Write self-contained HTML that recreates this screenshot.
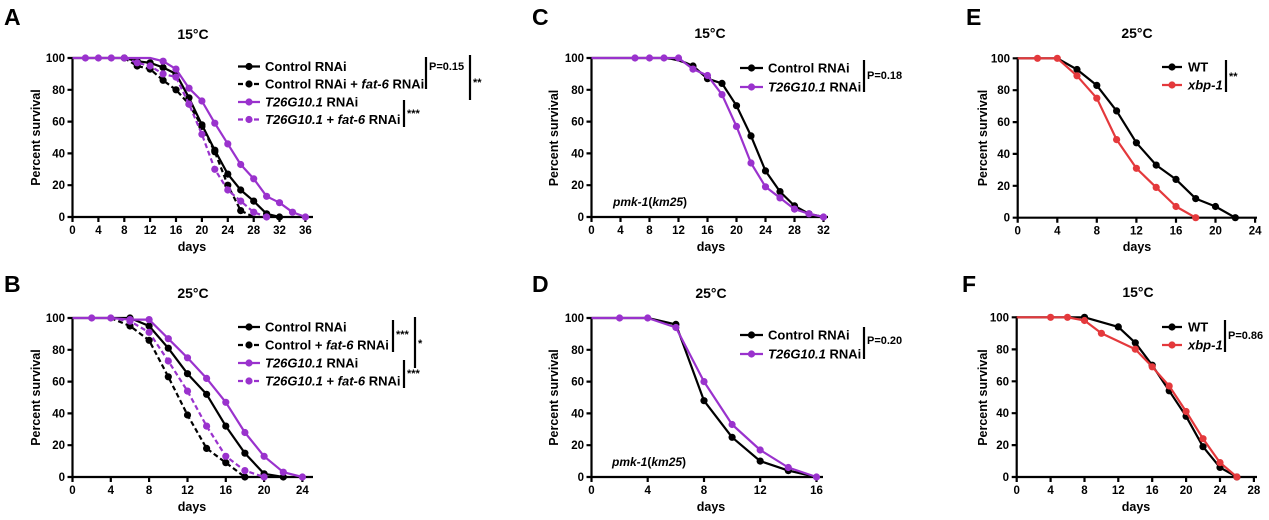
<!DOCTYPE html>
<html><head><meta charset="utf-8"><style>
html,body{margin:0;padding:0;background:#fff;}
svg{display:block;}
text{font-family:"Liberation Sans",Arial,sans-serif;font-weight:bold;fill:#000;}
.yl{font-size:11.5px;text-anchor:end;}
.xl{font-size:11.5px;text-anchor:middle;}
.ax{font-size:12.5px;text-anchor:middle;}
.tt{font-size:14px;text-anchor:middle;}
.pl{font-size:23px;}
.lg{font-size:13px;}
.pv{font-size:11px;}
.ln{fill:none;stroke-width:2.2;stroke-linejoin:round;}
.ds{stroke-dasharray:5 3;}
.mk{fill:none;stroke:none;}
.axl{stroke:#000;stroke-width:2.2;fill:none;}
</style></head><body>
<svg width="1269" height="520" viewBox="0 0 1269 520" xmlns="http://www.w3.org/2000/svg">
<defs>
<marker id="mb" markerWidth="10" markerHeight="10" refX="5" refY="5" markerUnits="userSpaceOnUse"><circle cx="5" cy="5" r="3.6" fill="#000"/></marker>
<marker id="mp" markerWidth="10" markerHeight="10" refX="5" refY="5" markerUnits="userSpaceOnUse"><circle cx="5" cy="5" r="3.6" fill="#9a32cd"/></marker>
<marker id="mr" markerWidth="10" markerHeight="10" refX="5" refY="5" markerUnits="userSpaceOnUse"><circle cx="5" cy="5" r="3.6" fill="#e4393c"/></marker>
</defs>

<!-- ================= PANEL A ================= -->
<text class="pl" x="4" y="25">A</text>
<text class="tt" x="193" y="39">15°C</text>
<text class="ax" transform="translate(40,137.5) rotate(-90)">Percent survival</text>
<text class="ax" x="192" y="251">days</text>
<path class="axl" d="M72.5,57 V218 M71.5,217 H313"/>
<path class="axl" d="M67.5,217H72.5M67.5,185.2H72.5M67.5,153.4H72.5M67.5,121.6H72.5M67.5,89.8H72.5M67.5,58H72.5
M72.5,217V222M98.4,217V222M124.3,217V222M150.1,217V222M176,217V222M201.9,217V222M227.8,217V222M253.7,217V222M279.5,217V222M305.4,217V222"/>
<g class="yl"><text x="65" y="221">0</text><text x="65" y="189.2">20</text><text x="65" y="157.4">40</text><text x="65" y="125.6">60</text><text x="65" y="93.8">80</text><text x="65" y="62">100</text></g>
<g class="xl"><text x="72.5" y="234">0</text><text x="98.4" y="234">4</text><text x="124.3" y="234">8</text><text x="150.1" y="234">12</text><text x="176" y="234">16</text><text x="201.9" y="234">20</text><text x="227.8" y="234">24</text><text x="253.7" y="234">28</text><text x="279.5" y="234">32</text><text x="305.4" y="234">36</text></g>
<polyline class="ln" stroke="#000" points="72.5,58 124.3,58 137.2,61.2 150.1,62.8 163.1,67.5 176,73.9 189,97.8 201.9,124.8 214.8,150.2 227.8,174.1 240.7,190 253.7,201.1 266.6,213.8 279.5,217"/>
<polyline class="mk" marker-start="url(#mb)" marker-mid="url(#mb)" marker-end="url(#mb)" points="124.3,58 137.2,61.2 150.1,62.8 163.1,67.5 176,73.9 189,97.8 201.9,124.8 214.8,150.2 227.8,174.1 240.7,190 253.7,201.1 266.6,213.8 279.5,217"/>
<polyline class="ln ds" stroke="#000" points="124.3,58 137.2,66 150.1,69.1 163.1,80.3 176,89.8 189,104.1 201.9,126.4 214.8,151.8 227.8,185.2 240.7,210.6 253.7,217"/>
<polyline class="mk" marker-start="url(#mb)" marker-mid="url(#mb)" marker-end="url(#mb)" points="137.2,66 150.1,69.1 163.1,80.3 176,89.8 189,104.1 201.9,126.4 214.8,151.8 227.8,185.2 240.7,210.6"/>
<polyline class="ln" stroke="#9a32cd" points="72.5,58 85.4,58 98.4,58 111.3,58 124.3,58 150.1,58 163.1,61.2 176,69.1 189,88.2 201.9,101 214.8,123.2 227.8,143.9 240.7,164.5 253.7,178.8 266.6,196.3 279.5,202.7 292.5,212.2 305.4,217"/>
<polyline class="mk" marker-start="url(#mp)" marker-mid="url(#mp)" marker-end="url(#mp)" points="85.4,58 98.4,58 111.3,58 124.3,58 163.1,61.2 176,69.1 189,88.2 201.9,101 214.8,123.2 227.8,143.9 240.7,164.5 253.7,178.8 266.6,196.3 279.5,202.7 292.5,212.2 305.4,217"/>
<polyline class="ln ds" stroke="#9a32cd" points="124.3,58 137.2,62.8 150.1,66 163.1,73.9 176,77.1 189,104.1 201.9,134.3 214.8,169.3 227.8,190 240.7,201.1 253.7,212.2 266.6,217"/>
<polyline class="mk" marker-start="url(#mp)" marker-mid="url(#mp)" marker-end="url(#mp)" points="137.2,62.8 150.1,66 163.1,73.9 176,77.1 189,104.1 201.9,134.3 214.8,169.3 227.8,190 240.7,201.1 253.7,212.2 266.6,217"/>
<line x1="238" y1="66.5" x2="260" y2="66.5" stroke="#000" stroke-width="2.2"/><circle cx="249" cy="66.5" r="3.6" fill="#000"/>
<line x1="238" y1="84" x2="260" y2="84" stroke="#000" stroke-width="2.2" stroke-dasharray="5 3"/><circle cx="249" cy="84" r="3.6" fill="#000"/>
<line x1="238" y1="102" x2="260" y2="102" stroke="#9a32cd" stroke-width="2.2"/><circle cx="249" cy="102" r="3.6" fill="#9a32cd"/>
<line x1="238" y1="119.5" x2="260" y2="119.5" stroke="#9a32cd" stroke-width="2.2" stroke-dasharray="5 3"/><circle cx="249" cy="119.5" r="3.6" fill="#9a32cd"/>
<text class="lg" x="265" y="71">Control RNAi</text>
<text class="lg" x="265" y="88.5">Control RNAi + <tspan font-style="italic">fat-6</tspan> RNAi</text>
<text class="lg" x="265" y="106.5"><tspan font-style="italic">T26G10.1</tspan> RNAi</text>
<text class="lg" x="265" y="124"><tspan font-style="italic">T26G10.1</tspan> + <tspan font-style="italic">fat-6</tspan> RNAi</text>
<path class="axl" stroke-width="1.6" d="M426,57V89 M470,55V100 M404,100V127"/>
<text class="pv" x="429" y="70">P=0.15</text>
<text class="pv" x="473" y="86">**</text>
<text class="pv" x="407" y="117">***</text>

<!-- ================= PANEL B ================= -->
<text class="pl" x="4" y="292">B</text>
<text class="tt" x="193" y="298">25°C</text>
<text class="ax" transform="translate(40,397.5) rotate(-90)">Percent survival</text>
<text class="ax" x="192" y="511">days</text>
<path class="axl" d="M72.5,317 V478 M71.5,477 H313"/>
<path class="axl" d="M67.5,477H72.5M67.5,445.2H72.5M67.5,413.4H72.5M67.5,381.6H72.5M67.5,349.8H72.5M67.5,318H72.5
M72.5,477V482M110.8,477V482M149.1,477V482M187.5,477V482M225.8,477V482M264.1,477V482M302.4,477V482"/>
<g class="yl"><text x="65" y="481">0</text><text x="65" y="449.2">20</text><text x="65" y="417.4">40</text><text x="65" y="385.6">60</text><text x="65" y="353.8">80</text><text x="65" y="322">100</text></g>
<g class="xl"><text x="72.5" y="494">0</text><text x="110.8" y="494">4</text><text x="149.1" y="494">8</text><text x="187.5" y="494">12</text><text x="225.8" y="494">16</text><text x="264.1" y="494">20</text><text x="302.4" y="494">24</text></g>
<polyline class="ln" stroke="#000" points="72.5,318 130,318 149.1,326 168.3,348.2 187.5,373.7 206.6,394.3 225.8,426.1 244.9,453.2 264.1,473.8 283.3,477"/>
<polyline class="mk" marker-start="url(#mb)" marker-mid="url(#mb)" marker-end="url(#mb)" points="130,318 149.1,326 168.3,348.2 187.5,373.7 206.6,394.3 225.8,426.1 244.9,453.2 264.1,473.8 283.3,477"/>
<polyline class="ln ds" stroke="#000" points="110.8,318 130,326 149.1,340.3 168.3,376.8 187.5,415 206.6,448.4 225.8,462.7 244.9,477"/>
<polyline class="mk" marker-start="url(#mb)" marker-mid="url(#mb)" marker-end="url(#mb)" points="130,326 149.1,340.3 168.3,376.8 187.5,415 206.6,448.4 225.8,462.7 244.9,477"/>
<polyline class="ln" stroke="#9a32cd" points="72.5,318 91.7,318 110.8,318 130,319.6 149.1,319.6 168.3,338.7 187.5,357.8 206.6,378.4 225.8,402.3 244.9,432.5 264.1,456.3 283.3,472.2 302.4,477"/>
<polyline class="mk" marker-start="url(#mp)" marker-mid="url(#mp)" marker-end="url(#mp)" points="91.7,318 110.8,318 130,319.6 149.1,319.6 168.3,338.7 187.5,357.8 206.6,378.4 225.8,402.3 244.9,432.5 264.1,456.3 283.3,472.2 302.4,477"/>
<polyline class="ln ds" stroke="#9a32cd" points="110.8,318 130,321.2 149.1,332.3 168.3,361 187.5,391.1 206.6,426.1 225.8,456.3 244.9,470.6 264.1,477"/>
<polyline class="mk" marker-start="url(#mp)" marker-mid="url(#mp)" marker-end="url(#mp)" points="130,321.2 149.1,332.3 168.3,361 187.5,391.1 206.6,426.1 225.8,456.3 244.9,470.6 264.1,477"/>
<line x1="238" y1="327" x2="260" y2="327" stroke="#000" stroke-width="2.2"/><circle cx="249" cy="327" r="3.6" fill="#000"/>
<line x1="238" y1="345" x2="260" y2="345" stroke="#000" stroke-width="2.2" stroke-dasharray="5 3"/><circle cx="249" cy="345" r="3.6" fill="#000"/>
<line x1="238" y1="363" x2="260" y2="363" stroke="#9a32cd" stroke-width="2.2"/><circle cx="249" cy="363" r="3.6" fill="#9a32cd"/>
<line x1="238" y1="381" x2="260" y2="381" stroke="#9a32cd" stroke-width="2.2" stroke-dasharray="5 3"/><circle cx="249" cy="381" r="3.6" fill="#9a32cd"/>
<text class="lg" x="265" y="331.5">Control RNAi</text>
<text class="lg" x="265" y="349.5">Control + <tspan font-style="italic">fat-6</tspan> RNAi</text>
<text class="lg" x="265" y="367.5"><tspan font-style="italic">T26G10.1</tspan> RNAi</text>
<text class="lg" x="265" y="385.5"><tspan font-style="italic">T26G10.1</tspan> + <tspan font-style="italic">fat-6</tspan> RNAi</text>
<path class="axl" stroke-width="1.6" d="M393,320V352 M415,317V368 M404,360V388"/>
<text class="pv" x="396" y="338">***</text>
<text class="pv" x="418" y="347">*</text>
<text class="pv" x="407" y="377">***</text>

<!-- ================= PANEL C ================= -->
<text class="pl" x="532" y="25">C</text>
<text class="tt" x="710" y="38">15°C</text>
<text class="ax" transform="translate(558,138) rotate(-90)">Percent survival</text>
<text class="ax" x="711" y="251">days</text>
<path class="axl" d="M591.5,57 V218 M590.5,217 H828"/>
<path class="axl" d="M586.5,217H591.5M586.5,185.2H591.5M586.5,153.4H591.5M586.5,121.6H591.5M586.5,89.8H591.5M586.5,58H591.5
M591.5,217V222M620.5,217V222M649.5,217V222M678.5,217V222M707.5,217V222M736.5,217V222M765.5,217V222M794.5,217V222M823.5,217V222"/>
<g class="yl"><text x="584" y="221">0</text><text x="584" y="189.2">20</text><text x="584" y="157.4">40</text><text x="584" y="125.6">60</text><text x="584" y="93.8">80</text><text x="584" y="62">100</text></g>
<g class="xl"><text x="591.5" y="234">0</text><text x="620.5" y="234">4</text><text x="649.5" y="234">8</text><text x="678.5" y="234">12</text><text x="707.5" y="234">16</text><text x="736.5" y="234">20</text><text x="765.5" y="234">24</text><text x="794.5" y="234">28</text><text x="823.5" y="234">32</text></g>
<polyline class="ln" stroke="#000" points="591.5,58 664,58 671.25,58.8 678.5,60.4 685.75,62.8 693,66 707.5,78.7 722,83.4 736.5,105.7 751,135.9 765.5,170.9 780,191.6 794.5,205.9 809,213.8 823.5,217"/>
<polyline class="mk" marker-start="url(#mb)" marker-mid="url(#mb)" marker-end="url(#mb)" points="693,66 707.5,78.7 722,83.4 736.5,105.7 751,135.9 765.5,170.9 780,191.6 794.5,205.9 809,213.8"/>
<polyline class="ln" stroke="#9a32cd" points="591.5,58 635,58 649.5,58 664,58 678.5,58 693,69.1 707.5,75.5 722,94.6 736.5,126.4 751,163 765.5,186.8 780,197.9 794.5,209.1 809,213.8 823.5,217"/>
<polyline class="mk" marker-start="url(#mp)" marker-mid="url(#mp)" marker-end="url(#mp)" points="635,58 649.5,58 664,58 678.5,58 693,69.1 707.5,75.5 722,94.6 736.5,126.4 751,163 765.5,186.8 780,197.9 794.5,209.1 809,213.8 823.5,217"/>
<text x="613" y="206" font-size="12" font-style="italic">pmk-1<tspan font-style="normal">(</tspan>km25<tspan font-style="normal">)</tspan></text>
<line x1="740" y1="68" x2="763" y2="68" stroke="#000" stroke-width="2.2"/><circle cx="751.5" cy="68" r="3.6" fill="#000"/>
<line x1="740" y1="87" x2="763" y2="87" stroke="#9a32cd" stroke-width="2.2"/><circle cx="751.5" cy="87" r="3.6" fill="#9a32cd"/>
<text class="lg" x="768" y="72.5">Control RNAi</text>
<text class="lg" x="768" y="91.5"><tspan font-style="italic">T26G10.1</tspan> RNAi</text>
<path class="axl" stroke-width="1.6" d="M864,60V92"/>
<text class="pv" x="867" y="79">P=0.18</text>

<!-- ================= PANEL D ================= -->
<text class="pl" x="532" y="292">D</text>
<text class="tt" x="711" y="298">25°C</text>
<text class="ax" transform="translate(558,397.5) rotate(-90)">Percent survival</text>
<text class="ax" x="711" y="511">days</text>
<path class="axl" d="M591.5,317 V478 M590.5,477 H823"/>
<path class="axl" d="M586.5,477H591.5M586.5,445.2H591.5M586.5,413.4H591.5M586.5,381.6H591.5M586.5,349.8H591.5M586.5,318H591.5
M591.5,477V482M647.7,477V482M704,477V482M760.2,477V482M816.5,477V482"/>
<g class="yl"><text x="584" y="481">0</text><text x="584" y="449.2">20</text><text x="584" y="417.4">40</text><text x="584" y="385.6">60</text><text x="584" y="353.8">80</text><text x="584" y="322">100</text></g>
<g class="xl"><text x="591.5" y="494">0</text><text x="647.7" y="494">4</text><text x="704" y="494">8</text><text x="760.2" y="494">12</text><text x="816.5" y="494">16</text></g>
<polyline class="ln" stroke="#000" points="591.5,318 647.7,318 675.9,324.4 704,400.7 732.1,437.3 760.2,461.1 788.3,470.6 816.5,477"/>
<polyline class="mk" marker-start="url(#mb)" marker-mid="url(#mb)" marker-end="url(#mb)" points="675.9,324.4 704,400.7 732.1,437.3 760.2,461.1 788.3,470.6"/>
<polyline class="ln" stroke="#9a32cd" points="591.5,318 619.6,318 647.7,318 675.9,327.5 704,381.6 732.1,424.5 760.2,450 788.3,467.5 816.5,477"/>
<polyline class="mk" marker-start="url(#mp)" marker-mid="url(#mp)" marker-end="url(#mp)" points="619.6,318 647.7,318 675.9,327.5 704,381.6 732.1,424.5 760.2,450 788.3,467.5 816.5,477"/>
<text x="612" y="466" font-size="12" font-style="italic">pmk-1<tspan font-style="normal">(</tspan>km25<tspan font-style="normal">)</tspan></text>
<line x1="740" y1="335" x2="763" y2="335" stroke="#000" stroke-width="2.2"/><circle cx="751.5" cy="335" r="3.6" fill="#000"/>
<line x1="740" y1="354" x2="763" y2="354" stroke="#9a32cd" stroke-width="2.2"/><circle cx="751.5" cy="354" r="3.6" fill="#9a32cd"/>
<text class="lg" x="768" y="339.5">Control RNAi</text>
<text class="lg" x="768" y="358.5"><tspan font-style="italic">T26G10.1</tspan> RNAi</text>
<path class="axl" stroke-width="1.6" d="M864,327V359"/>
<text class="pv" x="867" y="344">P=0.20</text>

<!-- ================= PANEL E ================= -->
<text class="pl" x="966" y="25">E</text>
<text class="tt" x="1137" y="38">25°C</text>
<text class="ax" transform="translate(987,138) rotate(-90)">Percent survival</text>
<text class="ax" x="1137" y="251">days</text>
<path class="axl" d="M1017.7,57.3 V218.7 M1016.7,217.7 H1257"/>
<path class="axl" d="M1012.7,217.7H1017.7M1012.7,185.8H1017.7M1012.7,153.9H1017.7M1012.7,122.1H1017.7M1012.7,90.2H1017.7M1012.7,58.3H1017.7
M1017.7,217.7V222.7M1057.3,217.7V222.7M1096.8,217.7V222.7M1136.4,217.7V222.7M1176,217.7V222.7M1215.5,217.7V222.7M1255.1,217.7V222.7"/>
<g class="yl"><text x="1010" y="221.7">0</text><text x="1010" y="189.8">20</text><text x="1010" y="157.9">40</text><text x="1010" y="126.1">60</text><text x="1010" y="94.2">80</text><text x="1010" y="62.3">100</text></g>
<g class="xl"><text x="1017.7" y="234.5">0</text><text x="1057.3" y="234.5">4</text><text x="1096.8" y="234.5">8</text><text x="1136.4" y="234.5">12</text><text x="1176" y="234.5">16</text><text x="1215.5" y="234.5">20</text><text x="1255.1" y="234.5">24</text></g>
<polyline class="ln" stroke="#000" points="1017.7,58.3 1057.3,58.3 1077,69.5 1096.8,85.4 1116.6,110.9 1136.4,142.8 1156.2,165.1 1176,179.4 1195.7,198.6 1215.5,206.5 1235.3,217.7"/>
<polyline class="mk" marker-start="url(#mb)" marker-mid="url(#mb)" marker-end="url(#mb)" points="1077,69.5 1096.8,85.4 1116.6,110.9 1136.4,142.8 1156.2,165.1 1176,179.4 1195.7,198.6 1215.5,206.5 1235.3,217.7"/>
<polyline class="ln" stroke="#e4393c" points="1017.7,58.3 1037.5,58.3 1057.3,58.3 1077,75.8 1096.8,98.2 1116.6,139.6 1136.4,168.3 1156.2,187.4 1176,206.5 1195.7,217.7"/>
<polyline class="mk" marker-start="url(#mr)" marker-mid="url(#mr)" marker-end="url(#mr)" points="1037.5,58.3 1057.3,58.3 1077,75.8 1096.8,98.2 1116.6,139.6 1136.4,168.3 1156.2,187.4 1176,206.5 1195.7,217.7"/>
<line x1="1162" y1="67" x2="1182" y2="67" stroke="#000" stroke-width="2.2"/><circle cx="1172" cy="67" r="3.6" fill="#000"/>
<line x1="1162" y1="85" x2="1182" y2="85" stroke="#e4393c" stroke-width="2.2"/><circle cx="1172" cy="85" r="3.6" fill="#e4393c"/>
<text class="lg" x="1188" y="71.5">WT</text>
<text class="lg" x="1188" y="89.5" font-style="italic">xbp-1</text>
<path class="axl" stroke-width="1.6" d="M1226,60V92"/>
<text class="pv" x="1229" y="80">**</text>

<!-- ================= PANEL F ================= -->
<text class="pl" x="962" y="292">F</text>
<text class="tt" x="1138" y="297">15°C</text>
<text class="ax" transform="translate(987,397.5) rotate(-90)">Percent survival</text>
<text class="ax" x="1136" y="511">days</text>
<path class="axl" d="M1016.7,316.3 V478 M1015.7,477 H1257"/>
<path class="axl" d="M1011.7,477H1016.7M1011.7,445.1H1016.7M1011.7,413.2H1016.7M1011.7,381.3H1016.7M1011.7,349.4H1016.7M1011.7,317.3H1016.7
M1016.7,477V482M1050.6,477V482M1084.5,477V482M1118.3,477V482M1152.2,477V482M1186.1,477V482M1220,477V482M1253.9,477V482"/>
<g class="yl"><text x="1009" y="481">0</text><text x="1009" y="449.1">20</text><text x="1009" y="417.2">40</text><text x="1009" y="385.3">60</text><text x="1009" y="353.4">80</text><text x="1009" y="321.3">100</text></g>
<g class="xl"><text x="1016.7" y="494">0</text><text x="1050.6" y="494">4</text><text x="1084.5" y="494">8</text><text x="1118.3" y="494">12</text><text x="1152.2" y="494">16</text><text x="1186.1" y="494">20</text><text x="1220" y="494">24</text><text x="1253.9" y="494">28</text></g>
<polyline class="ln" stroke="#000" points="1016.7,317.3 1084.5,317.3 1118.3,326.9 1135.3,342.8 1152.2,365.2 1169.2,390.8 1186.1,416.3 1203,446.7 1220,467.4 1236.9,477"/>
<polyline class="mk" marker-start="url(#mb)" marker-mid="url(#mb)" marker-end="url(#mb)" points="1084.5,317.3 1118.3,326.9 1135.3,342.8 1152.2,365.2 1169.2,390.8 1186.1,416.3 1203,446.7 1220,467.4 1236.9,477"/>
<polyline class="ln" stroke="#e4393c" stroke-width="1.8" points="1016.7,317.3 1050.6,317.3 1067.5,317.3 1084.5,320.5 1101.4,333.3 1135.3,349.2 1152.2,366.8 1169.2,386 1186.1,411.5 1203,438.7 1220,462.6 1236.9,477"/>
<polyline class="mk" marker-start="url(#mr)" marker-mid="url(#mr)" marker-end="url(#mr)" points="1050.6,317.3 1067.5,317.3 1084.5,320.5 1101.4,333.3 1135.3,349.2 1152.2,366.8 1169.2,386 1186.1,411.5 1203,438.7 1220,462.6 1236.9,477"/>
<line x1="1162" y1="327" x2="1182" y2="327" stroke="#000" stroke-width="2.2"/><circle cx="1172" cy="327" r="3.6" fill="#000"/>
<line x1="1162" y1="345" x2="1182" y2="345" stroke="#e4393c" stroke-width="2.2"/><circle cx="1172" cy="345" r="3.6" fill="#e4393c"/>
<text class="lg" x="1188" y="331.5">WT</text>
<text class="lg" x="1188" y="349.5" font-style="italic">xbp-1</text>
<path class="axl" stroke-width="1.6" d="M1225,320V352"/>
<text class="pv" x="1228" y="339">P=0.86</text>
</svg>
</body></html>
